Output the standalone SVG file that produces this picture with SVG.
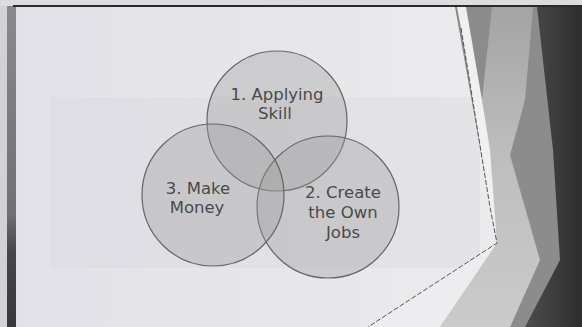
<svg xmlns="http://www.w3.org/2000/svg" width="582" height="327" viewBox="0 0 582 327">
<defs>
<linearGradient id="slideBg" x1="0" y1="0" x2="1" y2="0">
<stop offset="0" stop-color="#e1e1e7"/>
<stop offset="0.8" stop-color="#ebebed"/>
</linearGradient>
<linearGradient id="leftEdge" x1="0" y1="0" x2="0" y2="1">
<stop offset="0" stop-color="#8a8a8e"/>
<stop offset="0.65" stop-color="#707074"/>
<stop offset="0.76" stop-color="#48484c"/>
<stop offset="1" stop-color="#38383c"/>
</linearGradient>
<linearGradient id="darkR" x1="0" y1="0" x2="1" y2="0">
<stop offset="0" stop-color="#4c4c4c"/>
<stop offset="1" stop-color="#2e2e2e"/>
</linearGradient>
<linearGradient id="lightBand" x1="0" y1="0" x2="0" y2="1">
<stop offset="0" stop-color="#a4a4a4"/>
<stop offset="0.45" stop-color="#bdbdbd"/>
<stop offset="1" stop-color="#cbcbcb"/>
</linearGradient>
</defs>
<style>
.circle{fill:#9a9a9a;fill-opacity:0.35;stroke:#666;stroke-width:1.2}
.label{font-family:"DejaVu Sans","Verdana",sans-serif;font-size:16.5px;fill:#4a4a4a;text-anchor:middle}
</style>
<rect x="0" y="0" width="582" height="327" fill="url(#slideBg)"/>
<rect x="0" y="0" width="582" height="6" fill="#dcdcdf"/>
<rect x="50" y="97" width="430" height="171" fill="#d4d4da" opacity="0.3"/>
<rect x="0" y="6" width="7" height="321" fill="#d2d2d6"/>
<rect x="7" y="6" width="9" height="321" fill="url(#leftEdge)"/>
<g id="background-facets">
<polygon points="455,7 582,7 582,327 440,327 497,243" fill="#8c8c8c"/>
<polygon points="537,7 582,7 582,327 525,327 560,260 553,150" fill="url(#darkR)"/>
<polygon points="492,7 533,7 525,100 510,155 540,260 510,327 440,327 497,243 482,100" fill="url(#lightBand)"/>
<polygon points="457,7 466,7 482,100 490,150 497,243 490,207 461,28" fill="#f0f0f0"/>
<polygon points="497,243 368,327 440,327" fill="#ededef"/>
</g>
<line x1="13" y1="6" x2="582" y2="6" stroke="#2a2a2a" stroke-width="2"/>
<g id="connectors">
<polyline points="461,28 490,207 497,243 368,327" fill="none" stroke="#555" stroke-width="1" stroke-dasharray="5,2"/>
</g>
<g id="node-applying-skill">
<circle class="circle" cx="277" cy="121" r="70"/>
<text class="label" x="277" y="100">1. Applying</text>
<text class="label" x="275" y="119">Skill</text>
</g>
<g id="node-create-own-jobs">
<circle class="circle" cx="328" cy="207" r="71"/>
<text class="label" x="343" y="198">2. Create</text>
<text class="label" x="343" y="218">the Own</text>
<text class="label" x="343" y="238">Jobs</text>
</g>
<g id="node-make-money">
<circle class="circle" cx="213" cy="195" r="71"/>
<text class="label" x="198" y="194">3. Make</text>
<text class="label" x="197" y="213">Money</text>
</g>
</svg>
